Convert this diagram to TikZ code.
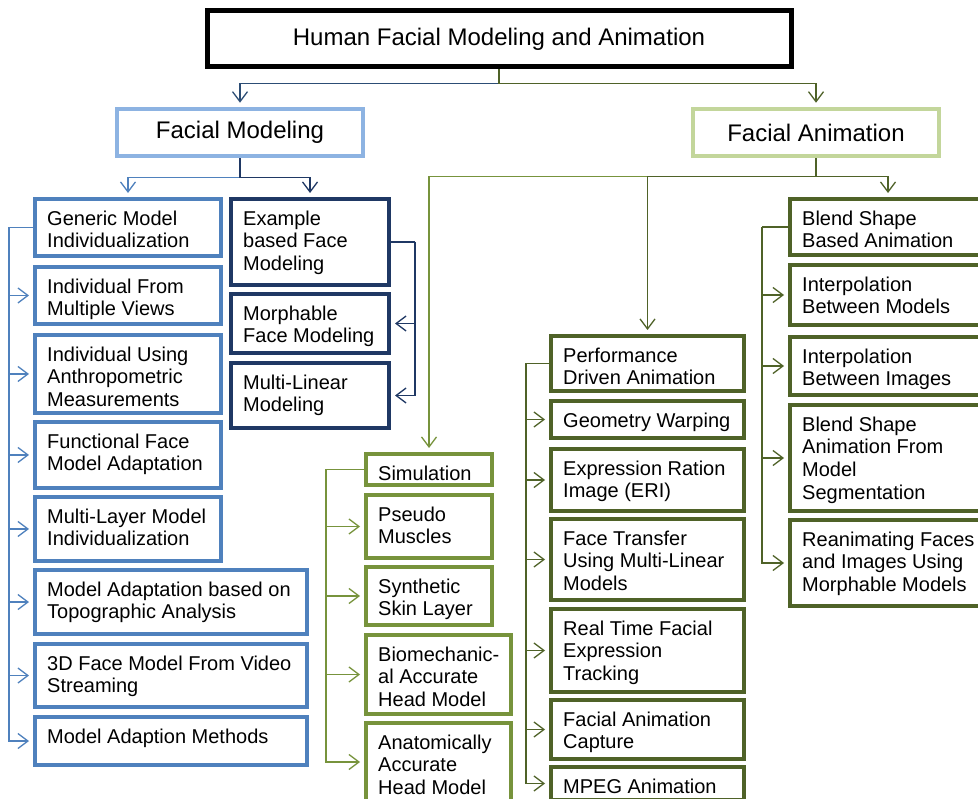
\documentclass[tikz,border=0pt]{standalone}
\usepackage{fontspec}
\setmainfont{Liberation Sans}
\usetikzlibrary{arrows.meta,calc}
\definecolor{navy}{HTML}{1F3864}
\definecolor{navyln}{HTML}{2C4D75}
\definecolor{medblue}{HTML}{4F81BD}
\definecolor{ltblue}{HTML}{8DB3E2}
\definecolor{olive}{HTML}{77933C}
\definecolor{dkolive}{HTML}{4F6228}
\definecolor{ltgreen}{HTML}{C3D69B}
\tikzset{
  bx/.style={draw, line width=4pt, inner sep=0pt, fill=white},
  bmed/.style={bx, draw=medblue},
  bnavy/.style={bx, draw=navy},
  bolive/.style={bx, draw=olive},
  bdk/.style={bx, draw=dkolive},
  btitle/.style={bx, draw=black, line width=5pt, font=\fontsize{24}{28}\selectfont},
  bfm/.style={bx, draw=ltblue, line width=4.5pt, font=\fontsize{24}{28}\selectfont},
  bfa/.style={bx, draw=ltgreen, line width=4.5pt, font=\fontsize{24}{28}\selectfont},
  txt/.style={font=\fontsize{20}{22.7}\selectfont, align=left, inner sep=0pt},
  lnk/.style={line width=1.3pt},
  conn/.style={line width=1.3pt, -{Straight Barb[length=10pt,width=15pt]}, shorten >=4pt},
}
\newcommand\mybox[7]{%
  \node[#2, minimum width={#5-#3-4}, minimum height={#6-#4-4}] (#1) at ({(#3+#5)/2},{-(#4+#6)/2}) {};
  \node[txt, anchor=north west] (#1t) at ([xshift=14pt,yshift=-13.5pt]#1.north west) {#7};}
\newcommand\myhead[7]{%
  \node[#2, minimum width={#5-#3-4}, minimum height={#6-#4-4}] (#1) at ({(#3+#5)/2},{-(#4+#6)/2}) {#7};}
\begin{document}
\begin{tikzpicture}[x=1pt,y=1pt]
\useasboundingbox (0,0) rectangle (978,-799);
\clip (0,0) rectangle (978,-799);
\fill[white] (0,0) rectangle (978,-799);

% headers
\myhead{title}{btitle}{205}{9}{793}{69}{Human Facial Modeling and Animation}
\myhead{fm}{bfm}{115}{107}{365}{158}{Facial Modeling}
\myhead{fa}{bfa}{691}{107}{941}{158}{Facial Animation}

% left column
\mybox{gen}{bmed}{33}{197}{223}{258}{Generic Model\\Individualization}
\mybox{ind2}{bmed}{33}{265}{223}{326}{Individual From\\Multiple Views}
\mybox{ind3}{bmed}{33}{333}{223}{415}{Individual Using\\Anthropometric\\Measurements}
\mybox{func}{bmed}{33}{420}{223}{490}{Functional Face\\Model Adaptation}
\mybox{mlay}{bmed}{33}{495}{223}{563}{Multi-Layer Model\\Individualization}
\mybox{topo}{bmed}{33}{568}{309}{636}{Model Adaptation based on\\Topographic Analysis}
\mybox{video}{bmed}{33}{642}{309}{709}{3D Face Model From Video\\Streaming}
\mybox{adapt}{bmed}{33}{715}{309}{767}{Model Adaption Methods}

% example column
\mybox{ex}{bnavy}{229}{197}{391}{287}{Example\\based Face\\Modeling}
\mybox{morph}{bnavy}{229}{292}{391}{355}{Morphable\\Face Modeling}
\mybox{ml}{bnavy}{229}{361}{391}{430}{Multi-Linear\\Modeling}

% simulation column
\mybox{sim}{bolive}{364}{452}{494}{487}{Simulation}
\mybox{pseudo}{bolive}{364}{493}{494}{560}{Pseudo\\Muscles}
\mybox{synth}{bolive}{364}{565}{494}{627}{Synthetic\\Skin Layer}
\mybox{bio}{bolive}{364}{633}{513}{716}{Biomechanic-\\al Accurate\\Head Model}
\mybox{anat}{bolive}{364}{721}{513}{803}{Anatomically\\Accurate\\Head Model}

% performance column
\mybox{perf}{bdk}{549}{334}{746}{393}{Performance\\Driven Animation}
\mybox{geo}{bdk}{549}{399}{746}{440}{Geometry Warping}
\mybox{eri}{bdk}{549}{447}{746}{513}{Expression Ration\\Image (ERI)}
\mybox{ft}{bdk}{549}{517}{746}{602}{Face Transfer\\Using Multi-Linear\\Models}
\mybox{rt}{bdk}{549}{607}{746}{694}{Real Time Facial\\Expression\\Tracking}
\mybox{cap}{bdk}{549}{698}{746}{761}{Facial Animation\\Capture}
\mybox{mpeg}{bdk}{549}{765}{746}{802}{MPEG Animation}

% right column
\mybox{blend}{bdk}{788}{197}{988}{257}{Blend Shape\\Based Animation}
\mybox{imod}{bdk}{788}{263}{988}{327}{Interpolation\\Between Models}
\mybox{iimg}{bdk}{788}{335}{988}{397}{Interpolation\\Between Images}
\mybox{seg}{bdk}{788}{403}{988}{513}{Blend Shape\\Animation From\\Model\\Segmentation}
\mybox{rean}{bdk}{788}{518}{988}{608}{Reanimating Faces\\and Images Using\\Morphable Models}

% top connectors
\draw[conn, navyln] (title.south) -- ++(0,-14) -| (fm.north);
\draw[conn, dkolive] (title.south) -- ++(0,-14) -| (fa.north);

% facial modeling connectors
\draw[conn, medblue] (fm.south) -- ++(0,-19) -| (gen.north);
\draw[conn, navy] (fm.south) -- ++(0,-19) -| (ex.north);

% facial animation connectors
\draw[conn, olive] (fa.south) -- ++(0,-18) -| (sim.north);
\draw[conn, dkolive] (fa.south) -- ++(0,-18) -| (perf.north);
\draw[conn, dkolive] (fa.south) -- ++(0,-18) -| (blend.north);

% left spine
\draw[lnk, medblue] (gen.west) -- ++(-24,0) coordinate (ls);
\foreach \b in {ind2,ind3,func,mlay,topo,video,adapt}
  \draw[conn, medblue] (ls) |- (\b.west);

% example spine
\draw[lnk, navy] (ex.east) -- ++(24,0) coordinate (es);
\foreach \b in {morph,ml}
  \draw[conn, navy] (es) |- (\b.east);

% simulation spine
\draw[lnk, olive] (sim.west) -- ++(-38,0) coordinate (ss);
\foreach \b in {pseudo,synth,bio,anat}
  \draw[conn, olive] (ss) |- (\b.west);

% performance spine
\draw[lnk, dkolive] (perf.west) -- ++(-23,0) coordinate (ps);
\foreach \b in {geo,eri,ft,rt,cap,mpeg}
  \draw[conn, dkolive] (ps) |- (\b.west);

% blend spine
\draw[lnk, dkolive] (blend.west) -- ++(-26,0) coordinate (bs);
\foreach \b in {imod,iimg,seg,rean}
  \draw[conn, dkolive] (bs) |- (\b.west);
\end{tikzpicture}
\end{document}
